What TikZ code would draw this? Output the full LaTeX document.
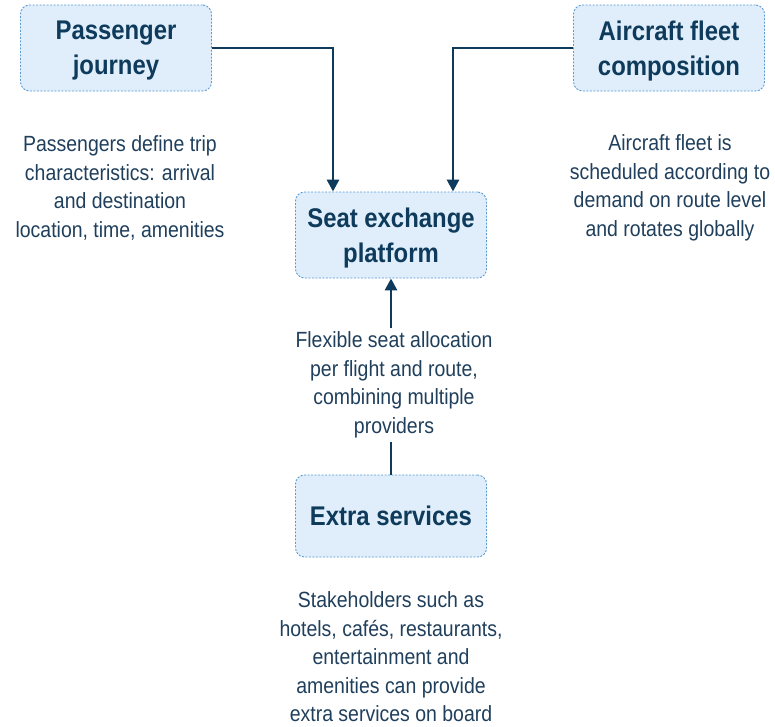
\documentclass[tikz,border=0pt]{standalone}
\usepackage{fontspec}
\setmainfont[FakeStretch=0.885]{Liberation Sans}
\usepackage{tikz}
\usetikzlibrary{positioning, arrows.meta}
\definecolor{boxfill}{HTML}{DFEEFA}
\definecolor{boxline}{HTML}{5B9BD5}
\definecolor{navy}{HTML}{0E3A5B}
\definecolor{bodytext}{HTML}{1F3F5C}

\begin{document}
\begin{tikzpicture}[x=1pt, y=1pt,
        box/.style={rectangle, rounded corners=9pt, draw=boxline, dash pattern=on 2pt off 1.5pt, line width=0.9pt, fill=boxfill,
          minimum width=191pt, minimum height=86pt, align=center, text=navy, text depth=-9pt,
          font=\fontsize{27}{35}\selectfont\bfseries},
        note/.style={align=center, text=bodytext, font=\fontsize{22}{28.5}\selectfont},
        link/.style={line width=2.8pt, navy, -{Triangle[length=12pt, width=12pt]}}]
      \useasboundingbox (0,0) rectangle (775,-726);
      % Main boxes
      \node[box] (journey) at (116,-48) {Passenger\\journey};
      \node[box] (fleet) at (669,-48) {Aircraft fleet\\composition};
      \node[box] (platform) at (391,-235) {Seat exchange\\platform};
      \node[box, minimum height=82pt] (extras) at (391,-516) {Extra services};

      % Descriptions
      \node[note] (journeytext) at (120,-188) {Passengers define trip\\characteristics: arrival\\and destination\\location, time, amenities};
      \node[note] (fleettext) at (670,-188) {Aircraft fleet is\\scheduled according to\\demand on route level\\and rotates globally};
      \node[note] (platformtext) at (394,-385) {Flexible seat allocation\\per flight and route,\\combining multiple\\providers};
      \node[note] (extrastext) at (391,-657) {Stakeholders such as\\hotels, cafés, restaurants,\\entertainment and\\amenities can provide\\extra services on board};
      \coordinate (up) at (platform.south |- platformtext.north);
      \coordinate (down) at (extras.north |- platformtext.south);

      % Connectors
      \draw[link] (journey.east) -| ([xshift=-58pt]platform.north);
      \draw[link] (fleet.west) -| ([xshift=62pt]platform.north);
      \draw[link] (up) -- (platform.south);
      \draw[line width=2.8pt, navy] (extras.north) -- (down);
    \end{tikzpicture}
\end{document}
